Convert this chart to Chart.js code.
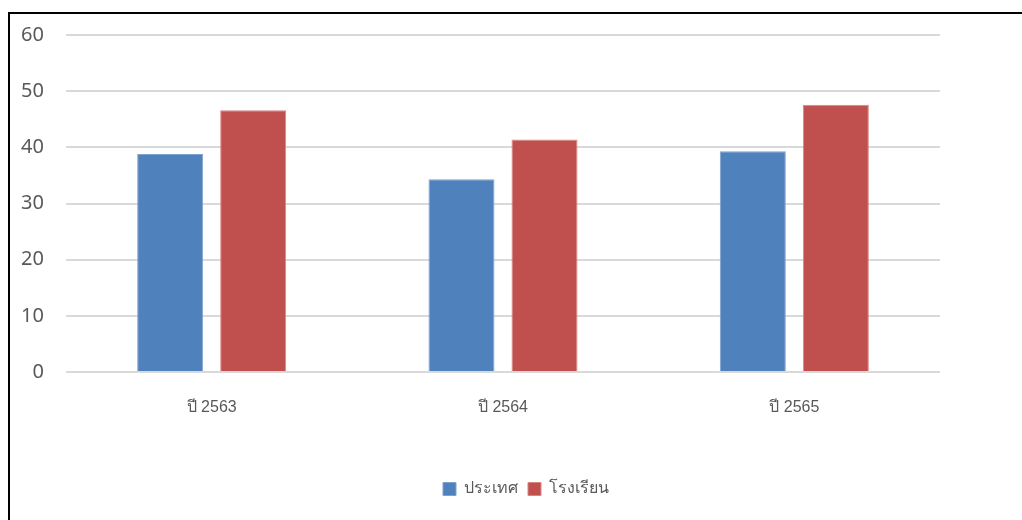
<!DOCTYPE html>
<html>
<head>
<meta charset="utf-8">
<script src="https://cdn.jsdelivr.net/npm/chart.js@4/dist/chart.umd.min.js"></script>
<style>
  html, body { margin: 0; padding: 0; background: #fff; overflow: hidden; }
  #frame { position: absolute; left: 8px; top: 12px; width: 1100px; height: 600px; border: 2px solid #000; }
  #wrap { position: absolute; left: 0; top: 0; width: 1022px; height: 520px; }
</style>
</head>
<body>
<div id="frame"></div>
<div id="wrap"><canvas id="chart"></canvas></div>
<script>
const years = ['ปี 2563', 'ปี 2564', 'ปี 2565'];
const countryScores = [38.8, 34.3, 39.3];
const schoolScores = [46.6, 41.4, 47.6];
const yTicks = [0, 10, 20, 30, 40, 50, 60];

// the legend in the original sits a bit right of the plot centre
const shiftLegend = {
    id: 'shiftLegend',
    afterLayout(chart) {
        chart.legend.left += 51;
        chart.legend.right += 51;
    }
};

const ctx = document.getElementById('chart').getContext('2d');
new Chart(ctx, {
    type: 'bar',
    data: {
        labels: years,
        datasets: [{
            label: 'ประเทศ',
            data: countryScores,
            backgroundColor: '#4F81BD',
            borderColor: '#7FA3D0',
            borderWidth: 1
        }, {
            label: 'โรงเรียน',
            data: schoolScores,
            backgroundColor: '#C0504D',
            borderColor: '#D98683',
            borderWidth: 1
        }]
    },
    options: {
        responsive: true,
        maintainAspectRatio: false,
        animation: false,
        categoryPercentage: 0.57,
        barPercentage: 0.795,
        layout: { padding: { left: 10, right: 82, top: 35, bottom: 13 } },
        plugins: {
            tooltip: { enabled: false },
            legend: {
                position: 'bottom',
                labels: {
                    boxWidth: 13,
                    boxHeight: 13,
                    padding: 10,
                    color: '#595959',
                    font: { family: 'Liberation Sans, Arial, sans-serif', size: 16 }
                }
            }
        },
        scales: {
            x: {
                grid: { display: false },
                border: { display: false },
                ticks: {
                    color: '#595959',
                    padding: 18,
                    font: { family: 'Liberation Sans, Arial, sans-serif', size: 16 }
                },
                afterFit(scale) { scale.height = 99; }
            },
            y: {
                min: 0,
                max: 60,
                afterBuildTicks(scale) { scale.ticks = yTicks.map(v => ({ value: v })); },
                grid: { color: '#D9D9D9', lineWidth: 2, drawTicks: false },
                border: { display: false },
                ticks: {
                    color: '#595959',
                    padding: 22,
                    font: { family: 'Noto Sans, sans-serif', size: 20 }
                },
                afterFit(scale) { scale.width = 56; }
            }
        }
    },
    plugins: [shiftLegend]
});
</script>
</body>
</html>
